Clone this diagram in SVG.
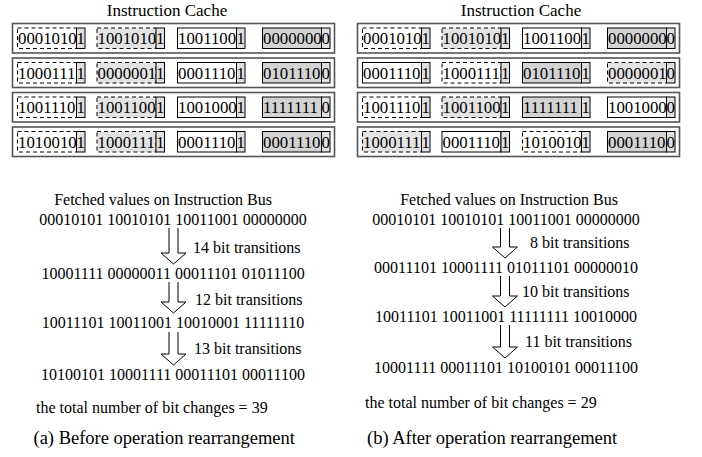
<svg xmlns="http://www.w3.org/2000/svg" width="702" height="457" viewBox="0 0 702 457">
<style>
text{font-family:"Liberation Serif","Times New Roman",serif;fill:#000}
.ttl{font-size:17px;text-anchor:middle}
.row{fill:#fff;stroke:#555;stroke-width:1.6}
.cA{fill:#fff;stroke:#000;stroke-width:1;stroke-dasharray:4 3}
.cB{fill:#e3e3e3;stroke:#000;stroke-width:1;stroke-dasharray:4 3}
.cC{fill:#fff;stroke:#000;stroke-width:1}
.cD{fill:#d3d3d3;stroke:#000;stroke-width:1}
.bit{fill:#e0e0e0;stroke:#000;stroke-width:1}
.v{font-size:16.8px}
.vb{font-size:16.8px;text-anchor:middle}
.t{font-size:16px}
.tm{font-size:16px;text-anchor:middle}
.cap{font-size:18.5px}
.arr{fill:#fff;stroke:#000;stroke-width:1}
</style>
<defs>
<g id="cellA"><rect class="cA" x="0" y="0" width="59" height="20.5"/><rect class="bit" x="59" y="0" width="8.5" height="20.5"/></g>
<g id="cellB"><rect class="cB" x="0" y="0" width="59" height="20.5"/><rect class="bit" x="59" y="0" width="8.5" height="20.5"/></g>
<g id="cellC"><rect class="cC" x="0" y="0" width="59" height="20.5"/><rect class="bit" x="59" y="0" width="8.5" height="20.5"/></g>
<g id="cellD"><rect class="cD" x="0" y="0" width="59" height="20.5"/><rect class="bit" x="59" y="0" width="8.5" height="20.5"/></g>
</defs>

<!-- Left panel -->
<g id="left-title"><text class="ttl" x="167" y="15.5">Instruction Cache</text></g>

<g id="L-row1">
<rect class="row" x="12.5" y="23.5" width="322" height="29.5"/>
<use href="#cellA" x="17.5" y="28"/><text class="v" x="18" y="44">0001010</text><text class="vb" x="80.75" y="44">1</text>
<use href="#cellB" x="97" y="28"/><text class="v" x="97.5" y="44">1001010</text><text class="vb" x="160.25" y="44">1</text>
<use href="#cellC" x="177.5" y="28"/><text class="v" x="178" y="44">1001100</text><text class="vb" x="240.75" y="44">1</text>
<use href="#cellD" x="262.5" y="28"/><text class="v" x="263" y="44">0000000</text><text class="vb" x="325.75" y="44">0</text>
</g>
<g id="L-row2">
<rect class="row" x="12.5" y="58" width="322" height="29.5"/>
<use href="#cellA" x="17.5" y="62.5"/><text class="v" x="18" y="78.5">1000111</text><text class="vb" x="80.75" y="78.5">1</text>
<use href="#cellB" x="97" y="62.5"/><text class="v" x="97.5" y="78.5">0000001</text><text class="vb" x="160.25" y="78.5">1</text>
<use href="#cellC" x="177.5" y="62.5"/><text class="v" x="178" y="78.5">0001110</text><text class="vb" x="240.75" y="78.5">1</text>
<use href="#cellD" x="262.5" y="62.5"/><text class="v" x="263" y="78.5">0101110</text><text class="vb" x="325.75" y="78.5">0</text>
</g>
<g id="L-row3">
<rect class="row" x="12.5" y="92.5" width="322" height="29.5"/>
<use href="#cellA" x="17.5" y="97"/><text class="v" x="18" y="113">1001110</text><text class="vb" x="80.75" y="113">1</text>
<use href="#cellB" x="97" y="97"/><text class="v" x="97.5" y="113">1001100</text><text class="vb" x="160.25" y="113">1</text>
<use href="#cellC" x="177.5" y="97"/><text class="v" x="178" y="113">1001000</text><text class="vb" x="240.75" y="113">1</text>
<use href="#cellD" x="262.5" y="97"/><text class="v" x="263" y="113">1111111</text><text class="vb" x="325.75" y="113">0</text>
</g>
<g id="L-row4">
<rect class="row" x="12.5" y="127" width="322" height="29.5"/>
<use href="#cellA" x="17.5" y="131.5"/><text class="v" x="18" y="147.5">1010010</text><text class="vb" x="80.75" y="147.5">1</text>
<use href="#cellB" x="97" y="131.5"/><text class="v" x="97.5" y="147.5">1000111</text><text class="vb" x="160.25" y="147.5">1</text>
<use href="#cellC" x="177.5" y="131.5"/><text class="v" x="178" y="147.5">0001110</text><text class="vb" x="240.75" y="147.5">1</text>
<use href="#cellD" x="262.5" y="131.5"/><text class="v" x="263" y="147.5">0001110</text><text class="vb" x="325.75" y="147.5">0</text>
</g>

<g id="L-bus">
<text class="tm" x="163" y="205">Fetched values on Instruction Bus</text>
<text class="tm" x="173" y="224.5">00010101 10010101 10011001 00000000</text>
<text class="t" x="193" y="252.5">14 bit transitions</text>
<text class="tm" x="173" y="278.5">10001111 00000011 00011101 01011100</text>
<text class="t" x="195" y="304.5">12 bit transitions</text>
<text class="tm" x="173" y="328">10011101 10011001 10010001 11111110</text>
<text class="t" x="194" y="354">13 bit transitions</text>
<text class="tm" x="173" y="379.5">10100101 10001111 00011101 00011100</text>
<text class="t" x="36" y="412.5">the total number of bit changes = 39</text>
<text class="cap" x="33.5" y="444">(a) Before operation rearrangement</text>
</g>

<!-- Right panel -->
<g id="right-title"><text class="ttl" x="521" y="15.5">Instruction Cache</text></g>

<g id="R-row1">
<rect class="row" x="357.5" y="23.5" width="322" height="29.5"/>
<use href="#cellA" x="362.5" y="28"/><text class="v" x="363" y="44">0001010</text><text class="vb" x="425.75" y="44">1</text>
<use href="#cellB" x="442" y="28"/><text class="v" x="442.5" y="44">1001010</text><text class="vb" x="505.25" y="44">1</text>
<use href="#cellC" x="522.5" y="28"/><text class="v" x="523" y="44">1001100</text><text class="vb" x="585.75" y="44">1</text>
<use href="#cellD" x="607.5" y="28"/><text class="v" x="608" y="44">0000000</text><text class="vb" x="670.75" y="44">0</text>
</g>
<g id="R-row2">
<rect class="row" x="357.5" y="58" width="322" height="29.5"/>
<use href="#cellC" x="362.5" y="62.5"/><text class="v" x="363" y="78.5">0001110</text><text class="vb" x="425.75" y="78.5">1</text>
<use href="#cellA" x="442" y="62.5"/><text class="v" x="442.5" y="78.5">1000111</text><text class="vb" x="505.25" y="78.5">1</text>
<use href="#cellD" x="522.5" y="62.5"/><text class="v" x="523" y="78.5">0101110</text><text class="vb" x="585.75" y="78.5">1</text>
<use href="#cellB" x="607.5" y="62.5"/><text class="v" x="608" y="78.5">0000001</text><text class="vb" x="670.75" y="78.5">0</text>
</g>
<g id="R-row3">
<rect class="row" x="357.5" y="92.5" width="322" height="29.5"/>
<use href="#cellA" x="362.5" y="97"/><text class="v" x="363" y="113">1001110</text><text class="vb" x="425.75" y="113">1</text>
<use href="#cellB" x="442" y="97"/><text class="v" x="442.5" y="113">1001100</text><text class="vb" x="505.25" y="113">1</text>
<use href="#cellD" x="522.5" y="97"/><text class="v" x="523" y="113">1111111</text><text class="vb" x="585.75" y="113">1</text>
<use href="#cellC" x="607.5" y="97"/><text class="v" x="608" y="113">1001000</text><text class="vb" x="670.75" y="113">0</text>
</g>
<g id="R-row4">
<rect class="row" x="357.5" y="127" width="322" height="29.5"/>
<use href="#cellB" x="362.5" y="131.5"/><text class="v" x="363" y="147.5">1000111</text><text class="vb" x="425.75" y="147.5">1</text>
<use href="#cellC" x="442" y="131.5"/><text class="v" x="442.5" y="147.5">0001110</text><text class="vb" x="505.25" y="147.5">1</text>
<use href="#cellA" x="522.5" y="131.5"/><text class="v" x="523" y="147.5">1010010</text><text class="vb" x="585.75" y="147.5">1</text>
<use href="#cellD" x="607.5" y="131.5"/><text class="v" x="608" y="147.5">0001110</text><text class="vb" x="670.75" y="147.5">0</text>
</g>

<g id="R-bus">
<text class="tm" x="509" y="204.5">Fetched values on Instruction Bus</text>
<text class="tm" x="506" y="224.5">00010101 10010101 10011001 00000000</text>
<text class="t" x="530" y="247.5">8 bit transitions</text>
<text class="tm" x="506" y="272.5">00011101 10001111 01011101 00000010</text>
<text class="t" x="522" y="297">10 bit transitions</text>
<text class="tm" x="506" y="321.5">10011101 10011001 11111111 10010000</text>
<text class="t" x="525" y="347">11 bit transitions</text>
<text class="tm" x="506" y="373">10001111 00011101 10100101 00011100</text>
<text class="t" x="365" y="408">the total number of bit changes = 29</text>
<text class="cap" x="367" y="444">(b) After operation rearrangement</text>
</g>

<g id="connectors">
<path class="arr" d="M169,228 V253 H161 L173.5,264 L186,253 H178 V228"/>
<path class="arr" d="M169,282 V302 H161 L173.5,313 L186,302 H178 V282"/>
<path class="arr" d="M169,332 V354 H161 L173.5,365 L186,354 H178 V332"/>
<path class="arr" d="M500.5,228 V247 H492.5 L505,258 L517.5,247 H509.5 V228"/>
<path class="arr" d="M500.5,276 V296 H492.5 L505,307 L517.5,296 H509.5 V276"/>
<path class="arr" d="M500.5,325 V347 H492.5 L505,358 L517.5,347 H509.5 V325"/>
</g>
</svg>
